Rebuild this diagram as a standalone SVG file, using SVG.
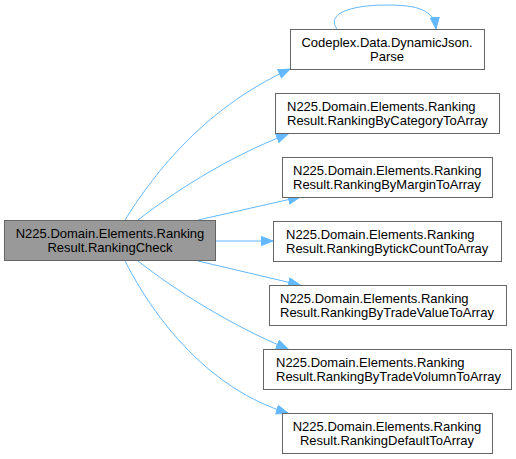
<svg xmlns="http://www.w3.org/2000/svg" width="516" height="459" viewBox="0 0 516 459">
<style>
.n rect{fill:#ffffff;stroke:#666666;stroke-width:1}
.n.main rect{fill:#999999}
text{font-family:"Liberation Sans",Arial,sans-serif;font-size:13px;fill:#000000}
.e path{fill:none;stroke:#63b8ff;stroke-width:1}
</style>
<defs>
<marker id="ah" markerUnits="userSpaceOnUse" markerWidth="14" markerHeight="12" refX="12" refY="5" orient="auto">
<path d="M0.5,0.5 L12,5 L0.5,9.5 z" fill="#63b8ff" stroke="#63b8ff" stroke-width="1"/>
</marker>
</defs>
<rect width="516" height="459" fill="#ffffff"/>
<g id="connectors" class="e">
<path d="M337,29 C326,14 350,5 387,5 C418,5 434,10 436,29" marker-end="url(#ah)"/>
<path d="M125,220 C150,180 200,110 290,69" marker-end="url(#ah)"/>
<path d="M138,220 C170,195 225,158 288,134" marker-end="url(#ah)"/>
<path d="M198,220 L300,197" marker-end="url(#ah)"/>
<path d="M216,241 L273,241" marker-end="url(#ah)"/>
<path d="M198,261 L300,285" marker-end="url(#ah)"/>
<path d="M138,261 C175,290 230,325 288,349" marker-end="url(#ah)"/>
<path d="M125,261 C155,320 210,390 288,413" marker-end="url(#ah)"/>
</g>
<g id="node-main" class="n main">
<rect x="4.5" y="220.5" width="211" height="40"/>
<text x="110" y="238" text-anchor="middle">N225.Domain.Elements.Ranking</text>
<text x="110" y="252" text-anchor="middle">Result.RankingCheck</text>
</g>
<g id="node-parse" class="n">
<rect x="290.5" y="29.5" width="194" height="40"/>
<text x="387" y="47" text-anchor="middle">Codeplex.Data.DynamicJson.</text>
<text x="387" y="61" text-anchor="middle">Parse</text>
</g>
<g id="node-category" class="n">
<rect x="275.5" y="93.5" width="224" height="40"/>
<text x="287" y="111">N225.Domain.Elements.Ranking</text>
<text x="287" y="125">Result.RankingByCategoryToArray</text>
</g>
<g id="node-margin" class="n">
<rect x="282.5" y="157.5" width="210" height="40"/>
<text x="293" y="175">N225.Domain.Elements.Ranking</text>
<text x="293" y="189">Result.RankingByMarginToArray</text>
</g>
<g id="node-tickcount" class="n">
<rect x="273.5" y="221.5" width="228" height="40"/>
<text x="286" y="239">N225.Domain.Elements.Ranking</text>
<text x="286" y="253">Result.RankingBytickCountToArray</text>
</g>
<g id="node-tradevalue" class="n">
<rect x="269.5" y="285.5" width="237" height="40"/>
<text x="280" y="303">N225.Domain.Elements.Ranking</text>
<text x="280" y="317">Result.RankingByTradeValueToArray</text>
</g>
<g id="node-tradevolumn" class="n">
<rect x="263.5" y="349.5" width="248" height="40"/>
<text x="276" y="367">N225.Domain.Elements.Ranking</text>
<text x="276" y="381">Result.RankingByTradeVolumnToArray</text>
</g>
<g id="node-default" class="n">
<rect x="282.5" y="413.5" width="210" height="40"/>
<text x="387" y="431" text-anchor="middle">N225.Domain.Elements.Ranking</text>
<text x="387" y="445" text-anchor="middle">Result.RankingDefaultToArray</text>
</g>
</svg>
